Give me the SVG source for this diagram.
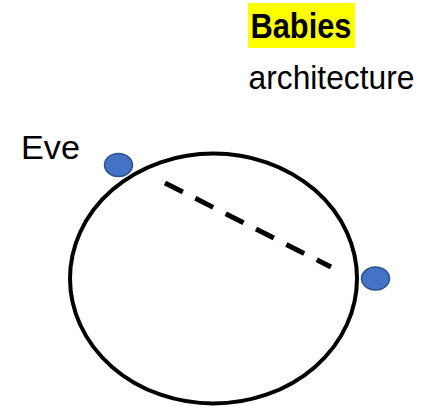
<svg xmlns="http://www.w3.org/2000/svg" width="423" height="406" viewBox="0 0 423 406">
<style>
.t{font-family:"Liberation Sans",Arial,sans-serif;fill:#000}
.dot{fill:#4472C4;stroke:#2F528F;stroke-width:1.5}
</style>
<rect width="423" height="406" fill="#fff"/>
<g id="title">
<rect x="248" y="3" width="107" height="45" fill="#FFFF00"/>
<text class="t" x="250.5" y="37.7" font-size="35.5" font-weight="bold" textLength="101" lengthAdjust="spacingAndGlyphs">Babies</text>
<text class="t" x="248.5" y="89.3" font-size="33.5" textLength="166" lengthAdjust="spacingAndGlyphs">architecture</text>
</g>
<g id="circle">
<ellipse cx="213.5" cy="278.5" rx="143.5" ry="125" fill="none" stroke="#000" stroke-width="4"/>
</g>
<g id="connectors">
<line x1="165" y1="183" x2="331" y2="267" stroke="#000" stroke-width="5" stroke-dasharray="20 14"/>
</g>
<g id="eve">
<text class="t" x="21" y="159.3" font-size="33.5" textLength="59" lengthAdjust="spacingAndGlyphs">Eve</text>
<ellipse class="dot" cx="118.5" cy="165" rx="14" ry="11.5"/>
</g>
<g id="dot2">
<ellipse class="dot" cx="375.5" cy="278.5" rx="14" ry="11.5"/>
</g>
</svg>
